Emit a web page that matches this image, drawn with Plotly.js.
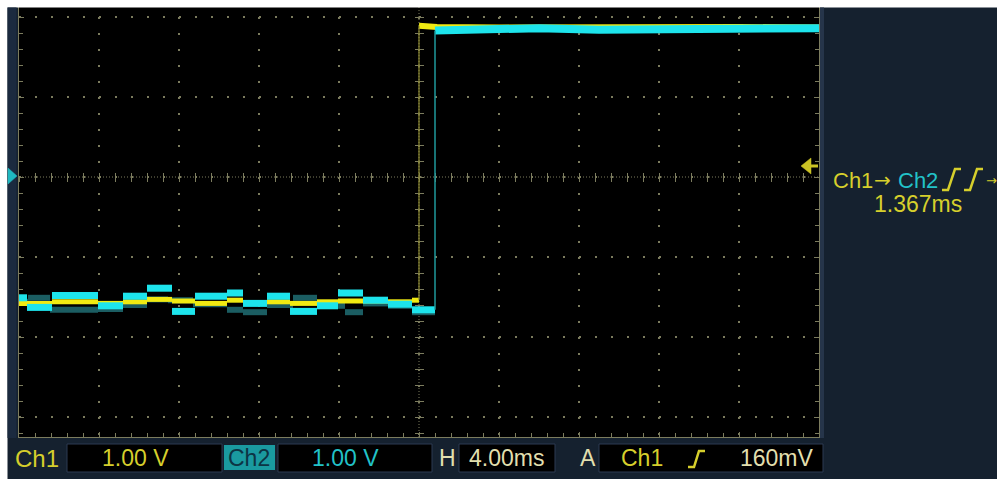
<!DOCTYPE html>
<html><head><meta charset="utf-8">
<script src="https://cdn.plot.ly/plotly-3.0.1.min.js"></script>
<style>html,body{margin:0;padding:0;background:#fff;overflow:hidden}#chart{width:997px;height:479px}</style>
</head><body><div id="chart"></div><script>
// ---- data (time in ms, voltage in V; 4.00 ms/div, 1.00 V/div) ----
// Ch2 (cyan) low-level steps before its edge
const ch2LowTimes = [-20, -19.6, -18.35, -16.05, -14.8, -13.6, -12.35, -11.2, -9.6, -8.8, -7.6, -6.45, -5.1, -4.05, -2.8, -1.55, -0.35, 0.8];
const ch2LowVolts = [-1.51, -1.63, -1.48, -1.61, -1.49, -1.39, -1.68, -1.49, -1.45, -1.58, -1.49, -1.68, -1.61, -1.45, -1.54, -1.59, -1.66];
// Ch2 high level after the edge
const ch2HighTimes = [0.8, 3, 6, 9, 12, 15, 18, 20];
const ch2HighVolts = [1.83, 1.85, 1.86, 1.84, 1.85, 1.86, 1.85, 1.86];
// Ch2 earlier acquisitions (dim persistence)
const ch2GhostTimes = [-20, -19.55, -18.45, -16.05, -14.8, -13.6, -12.55, -11.3, -9.6, -8.8, -7.6, -6.3, -5.1, -3.7, -2.8, -1.55, -0.35, 0.8];
const ch2GhostVolts = [-1.56, -1.51, -1.66, -1.65, -1.60, -1.53, -1.54, -1.59, -1.66, -1.69, -1.60, -1.51, -1.61, -1.69, -1.58, -1.61, -1.69];
// Ch1 (yellow) low-level steps before its edge
const ch1LowTimes = [-20, -18.35, -16.05, -14.8, -13.6, -12.35, -11.2, -9.6, -8.8, -7.6, -6.45, -5.1, -4.05, -2.8, -1.55, -0.35, 0];
const ch1LowVolts = [-1.58, -1.56, -1.58, -1.56, -1.53, -1.55, -1.58, -1.54, -1.58, -1.56, -1.58, -1.56, -1.55, -1.55, -1.56, -1.54];
// Ch1 high level
const ch1HighTimes = [0, 0.8, 0.9, 4, 8, 12, 16, 20];
const ch1HighVolts = [1.89, 1.89, 1.875, 1.87, 1.875, 1.87, 1.875, 1.87];
// readouts
const ch1Scale = '1.00 V', ch2Scale = '1.00 V', timeScale = '4.00ms', trigLevel = '160mV', delayText = '1.367ms';

// ---- helpers ----
function segments(times, volts){
  const xs=[], ys=[];
  for(let i=0;i<volts.length;i++){ xs.push(times[i], times[i+1], null); ys.push(volts[i], volts[i], null); }
  return {x:xs, y:ys};
}
const L=19, R=819, T=1, B=437;
const px = x => (x-L)/(R-L);
const py = y => (B-y)/(B-T);
const GR = '#7c7c5e';
const YEL='#f0ea12', CYN='#1de4ec', YT='#d6cf2c', CT='#22c2c8', CREAM='#e2dfae';
const FONT = 'Liberation Sans, Arial, sans-serif';

const g = segments(ch2GhostTimes, ch2GhostVolts);
const y1 = segments(ch1LowTimes, ch1LowVolts);
const c2 = segments(ch2LowTimes, ch2LowVolts);

const traces = [
  {x:g.x, y:g.y, mode:'lines', line:{color:'#1b5d62', width:6}, hoverinfo:'skip'},
  {x:y1.x, y:y1.y, mode:'lines', line:{color:YEL, width:5}, hoverinfo:'skip'},
  {x:ch1HighTimes, y:ch1HighVolts, mode:'lines', line:{color:YEL, width:6}, hoverinfo:'skip'},
  {x:[ch1LowTimes[ch1LowTimes.length-1], ch1HighTimes[0]], y:[ch1LowVolts[ch1LowVolts.length-1], ch1HighVolts[0]], mode:'lines', line:{color:'#8e8a32', width:1.2}, hoverinfo:'skip'},
  {x:c2.x, y:c2.y, mode:'lines', line:{color:CYN, width:7}, hoverinfo:'skip'},
  {x:ch2HighTimes, y:ch2HighVolts, mode:'lines', line:{color:CYN, width:8}, hoverinfo:'skip'},
  {x:[ch2LowTimes[ch2LowTimes.length-1], ch2HighTimes[0]], y:[ch2LowVolts[ch2LowVolts.length-1], ch2HighVolts[0]], mode:'lines', line:{color:'#1f9a9c', width:1.5}, hoverinfo:'skip'},
  {x:[], y:[], xaxis:'x2', yaxis:'y2'},
  {x:[], y:[], xaxis:'x3', yaxis:'y3'}
];

const baseAx = {showticklabels:false, zeroline:false, fixedrange:true, layer:'below traces'};
const layout = {
  width:997, height:479, margin:{l:L, r:997-R, t:T, b:479-B, pad:0},
  paper_bgcolor:'#15212f', plot_bgcolor:'#000', showlegend:false,
  xaxis:Object.assign({}, baseAx, {range:[-20,20], dtick:4, tick0:0, showgrid:true, gridcolor:GR, griddash:'2px,14px', gridwidth:1.5,
    ticks:'inside', ticklen:5, tickcolor:GR, showline:true, linecolor:GR, mirror:'ticks',
    minor:{dtick:0.8, tick0:0, ticks:'inside', ticklen:4, tickcolor:GR, showgrid:false}}),
  yaxis:Object.assign({}, baseAx, {range:[-3.25,2.2], dtick:1, tick0:0, showgrid:true, gridcolor:GR, griddash:'2px,14px', gridwidth:1.5,
    ticks:'inside', ticklen:5, tickcolor:GR, showline:true, linecolor:GR, mirror:'ticks',
    minor:{dtick:0.2, tick0:0, ticks:'inside', ticklen:4, tickcolor:GR, showgrid:false}}),
  xaxis2:Object.assign({}, baseAx, {overlaying:'x', range:[-20,20], anchor:'free', position:py(177), side:'bottom', dtick:0.8, tick0:0, ticks:'outside', ticklen:4, tickcolor:GR, showgrid:false, showline:false}),
  xaxis3:Object.assign({}, baseAx, {overlaying:'x', range:[-20,20], anchor:'free', position:py(177), side:'bottom', dtick:0.8, tick0:0, ticks:'inside', ticklen:4, tickcolor:GR, showgrid:false, showline:false}),
  yaxis2:Object.assign({}, baseAx, {overlaying:'y', range:[-3.25,2.2], anchor:'free', position:px(419), side:'left', dtick:0.2, tick0:0, ticks:'outside', ticklen:4, tickcolor:GR, showgrid:false, showline:false}),
  yaxis3:Object.assign({}, baseAx, {overlaying:'y', range:[-3.25,2.2], anchor:'free', position:px(419), side:'left', dtick:0.2, tick0:0, ticks:'inside', ticklen:4, tickcolor:GR, showgrid:false, showline:false}),
  shapes:[], annotations:[]
};

function rect(x0,y0,x1,y1,fill,line){
  layout.shapes.push({type:'rect', xref:'paper', yref:'paper', x0:px(x0), x1:px(x1), y0:py(y1), y1:py(y0), fillcolor:fill, line:{width:line?1:0, color:line||fill}, layer:'above'});
}
function path(pts, color, fill, w){
  let d = pts.map((p,i)=>(i?'L':'M')+px(p[0])+','+py(p[1])).join(' ') + (fill?' Z':'');
  layout.shapes.push({type:'path', xref:'paper', yref:'paper', path:d, fillcolor:fill?color:'rgba(0,0,0,0)', line:{color:color, width:w||0.5}, layer:'above'});
}
function ann(text, x, y, color, size, xanchor, family){
  layout.annotations.push({text:text, xref:'paper', yref:'paper', x:px(x), y:py(y), xanchor:xanchor||'center', yanchor:'middle', showarrow:false, font:{family:family||FONT, size:size||23, color:color}});
}

// center crosshair (dense dotted)
layout.shapes.push({type:'line', xref:'x', yref:'y', x0:-20, x1:20, y0:0, y1:0, line:{color:GR, width:1, dash:'1px,2px'}, layer:'below'});
layout.shapes.push({type:'line', xref:'x', yref:'y', x0:0, x1:0, y0:-3.25, y1:2.2, line:{color:GR, width:1, dash:'1px,2px'}, layer:'below'});

// white outer border
rect(-1, -1, 998, 7.5, '#ffffff');
rect(-1, -1, 7.5, 480, '#ffffff');
// screen frame strips
rect(7.5, 7.5, 16.5, 438, '#1b2a3f');
rect(820, 7.5, 824, 438, '#26354a');

// markers
path([[8,168],[17,176],[8,184]], '#1fb8c0', true);
path([[801,166],[811,158],[811,174]], '#cbc324', true);
path([[809,166],[818,166]], '#cbc324', false, 3);

// right panel readout
ann('Ch1', 831, 180, YT, 22, 'left');
ann('→', 872, 180, YT, 20, 'left', 'DejaVu Sans, sans-serif');
ann('Ch2', 896, 180, CT, 22, 'left');
path([[942,190],[948,190],[955,169],[961,169]], YT, false, 2.5);
path([[964,190],[970,190],[977,169],[983,169]], YT, false, 2.5);
ann('→', 984, 180, YT, 13, 'left', 'DejaVu Sans, sans-serif');
ann(delayText, 918, 204, YT, 23);

// bottom readout boxes
rect(67, 444, 222, 472, '#000000', '#2c3b52');
rect(224, 445, 275, 470, '#1a9aa0');
rect(278, 444, 432, 472, '#000000', '#2c3b52');
rect(459, 444, 555, 472, '#000000', '#2c3b52');
rect(599, 444, 823, 472, '#000000', '#2c3b52');
ann('Ch1', 37, 458, YT, 24);
ann(ch1Scale, 135, 458, YT, 23);
ann('Ch2', 249, 458, '#0d3444', 23);
ann(ch2Scale, 345, 458, CT, 23);
ann('H', 447, 458, CREAM, 23);
ann(timeScale, 506, 458, CREAM, 23);
ann('A', 588, 458, CREAM, 23);
ann('Ch1', 642, 458, YT, 23);
path([[688,467],[694,467],[699,451],[705,451]], YT, false, 2.5);
ann(trigLevel, 777, 458, CREAM, 23);

Plotly.newPlot('chart', traces, layout, {staticPlot:true, displayModeBar:false});
</script></body></html>
